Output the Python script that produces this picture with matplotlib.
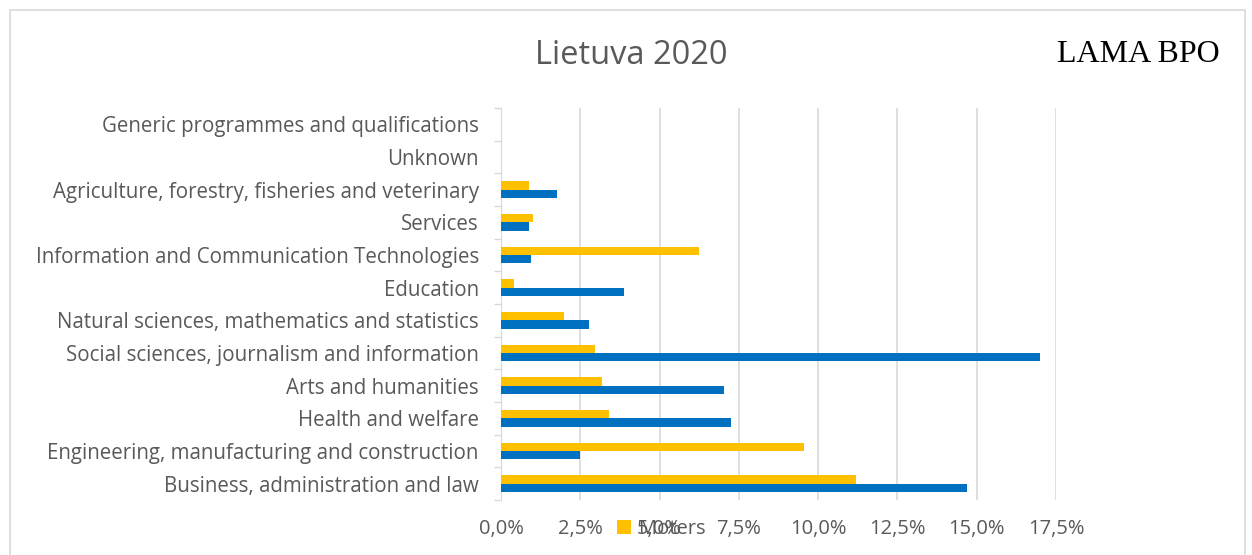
import matplotlib.pyplot as plt
import matplotlib.patches as patches
from matplotlib.ticker import FuncFormatter, FixedLocator
import numpy as np

plt.rcParams['font.family'] = ['Open Sans', 'DejaVu Sans']

categories = ["Business, administration and law",
              "Engineering, manufacturing and construction",
              "Health and welfare",
              "Arts and humanities",
              "Social sciences, journalism and information",
              "Natural sciences, mathematics and statistics",
              "Education",
              "Information and Communication Technologies",
              "Services",
              "Agriculture, forestry, fisheries and veterinary",
              "Unknown",
              "Generic programmes and qualifications"]
moters = [11.2, 9.55, 3.40, 3.17, 2.97, 2.0, 0.42, 6.23, 1.01, 0.89, 0, 0]
vyrai = [14.69, 2.50, 7.26, 7.04, 17.0, 2.78, 3.88, 0.94, 0.88, 1.76, 0, 0]
xticks = [0, 2.5, 5, 7.5, 10, 12.5, 15, 17.5]

fig = plt.figure(figsize=(12.52, 5.55), dpi=100)
ax = fig.add_axes([501/1252, 1-500/555, 555/1252, 392/555])

y = np.arange(len(categories))
h = 0.26
ax.barh(y + h/2, moters, height=h, color="#FFC000", label="Moters", zorder=3)
ax.barh(y - h/2, vyrai, height=h, color="#0070C0", label="Vyrai", zorder=3)

ax.set_xlim(0, 17.5)
ax.set_ylim(-0.5, len(categories) - 0.5)
ax.set_xticks(xticks)
ax.xaxis.set_major_formatter(FuncFormatter(lambda v, p: ("%.1f%%" % v).replace(".", ",")))
ax.set_yticks(y)
ax.set_yticklabels(categories)
ax.yaxis.set_minor_locator(FixedLocator(np.arange(-0.5, len(categories), 1)))
ax.tick_params(axis="y", which="major", length=0, pad=16, labelsize=14.8, labelcolor="#595959")
ax.tick_params(axis="y", which="minor", length=5, color="#D9D9D9", width=1)
ax.tick_params(axis="x", length=0, pad=14, labelsize=14.5, labelcolor="#595959")
ax.grid(axis="x", color="#D9D9D9", linewidth=1.2, zorder=0)
for s in ["top", "right", "bottom"]:
    ax.spines[s].set_visible(False)
ax.spines["left"].set_color("#D9D9D9")

fig.text(631/1252, 1-55/555, "Lietuva 2020", ha="center", va="center", fontsize=23.5, color="#595959")
fig.text(1138/1252, 1-55/555, "LAMA BPO", ha="center", va="center", fontsize=23,
         family="Liberation Serif", color="black")

fig.legend(handles=[ax.containers[0]], labels=["Moters"], loc="center left",
           bbox_to_anchor=(599/1252, 1-529/555), frameon=False, fontsize=14.5,
           labelcolor="#595959", handlelength=0.7, handleheight=0.7, handletextpad=0.4)

fig.patches.append(patches.Rectangle((10/1252, -0.05), 1235/1252, 1.05 - 10/555,
                                     transform=fig.transFigure, fill=False,
                                     edgecolor="#D9D9D9", linewidth=1.2))

fig.savefig("out.png", dpi=100)
